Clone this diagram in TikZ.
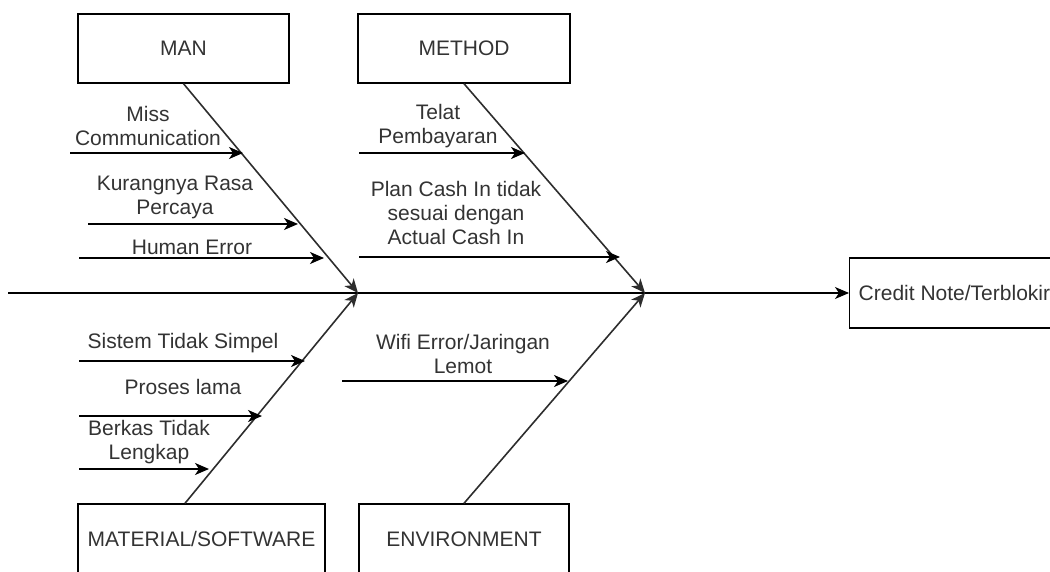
\documentclass[tikz,border=0pt]{standalone}
\usepackage{fontspec}
\setmainfont{Liberation Sans}
\usetikzlibrary{arrows.meta}
\definecolor{txt}{RGB}{51,51,51}
\definecolor{bonec}{RGB}{45,45,45}
\tikzset{
  catbox/.style={draw=black, line width=1.4pt, rectangle, minimum height=69pt, inner sep=0pt, text=txt, font=\fontsize{21}{24}\selectfont},
  lbl/.style={align=center, inner sep=0pt, text=txt, font=\fontsize{21}{24}\selectfont},
  tip/.style={-{Stealth[length=14pt,width=12pt,inset=4pt]}},
  cause/.style={tip, line width=1.8pt, black},
  bone/.style={tip, line width=1.6pt, bonec},
  spine/.style={tip, line width=1.2pt, black}
}
\begin{document}
\begin{tikzpicture}[x=1pt,y=-1pt]
\useasboundingbox (0,0) rectangle (1050,572);
\clip (0,0) rectangle (1050,572);
% category boxes
\node[catbox, minimum width=211pt] (man) at (183.5,48.5) {MAN};
\node[catbox, minimum width=212pt] (method) at (464,48.5) {METHOD};
\node[catbox, minimum width=247pt, minimum height=70pt] (material) at (201.5,539) {MATERIAL/SOFTWARE};
\node[catbox, minimum width=210pt, minimum height=70pt] (env) at (464,539) {ENVIRONMENT};
% effect box
\node[catbox, anchor=west, minimum height=70pt, inner xsep=9pt] (credit) at (849,293) {Credit Note/Terblokir};
% spine
\coordinate (s0) at (8,293);
\coordinate (j1) at (358,293);
\coordinate (j2) at (645,293);
\draw[spine] (s0) -- (credit.west);
% bones
\draw[bone] (man.south) -- (j1);
\draw[bone] (material.north -| 185,0) -- (j1);
\draw[bone] (method.south) -- (j2);
\draw[bone] (env.north) -- (j2);
% cause coordinates
\coordinate (a1) at (70,153);  \coordinate (b1) at (243,153);
\coordinate (a2) at (88,224);  \coordinate (b2) at (298,224);
\coordinate (a3) at (79,258);  \coordinate (b3) at (324,258);
\coordinate (a4) at (359,153); \coordinate (b4) at (525,153);
\coordinate (a5) at (359,257); \coordinate (b5) at (620,257);
\coordinate (a6) at (79,361);  \coordinate (b6) at (305,361);
\coordinate (a7) at (79,416);  \coordinate (b7) at (262,416);
\coordinate (a8) at (79,469);  \coordinate (b8) at (209,469);
\coordinate (a9) at (342,381); \coordinate (b9) at (568,381);
\draw[cause] (a1) -- (b1);
\draw[cause] (a2) -- (b2);
\draw[cause] (a3) -- (b3);
\draw[cause] (a4) -- (b4);
\draw[cause] (a5) -- (b5);
\draw[cause] (a6) -- (b6);
\draw[cause] (a7) -- (b7);
\draw[cause] (a8) -- (b8);
\draw[cause] (a9) -- (b9);
% labels
\node[lbl] (lmiss) at (148,126) {Miss\\Communication};
\node[lbl] (lkur) at (175,197) {Kurangnya Rasa\\Percaya};
\node[lbl] (lhum) at (192,247) {Human Error};
\node[lbl] (ltel) at (438,126) {Telat\\Pembayaran};
\node[lbl] (lplan) at (456,213) {Plan Cash In tidak\\sesuai dengan\\Actual Cash In};
\node[lbl] (lsis) at (183,343) {Sistem Tidak Simpel};
\node[lbl] (lpro) at (183,387) {Proses lama};
\node[lbl] (lber) at (149,442) {Berkas Tidak\\Lengkap};
\node[lbl] (lwifi) at (463,354) {Wifi Error/Jaringan\\Lemot};
\end{tikzpicture}
\end{document}
